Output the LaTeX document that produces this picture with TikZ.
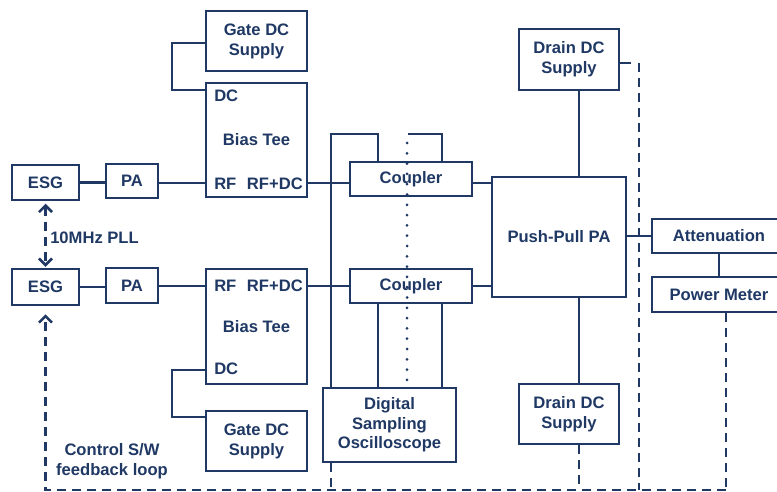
\documentclass[tikz,border=0pt]{standalone}
\usepackage{fontspec}
\setmainfont{Liberation Sans}
\usetikzlibrary{arrows.meta}
\definecolor{navy}{RGB}{31,56,100}
\begin{document}
\begin{tikzpicture}[x=1pt,y=-1pt,line width=2.5pt,navy,
  font=\bfseries\fontsize{16.6}{20}\selectfont,
  box/.style={draw,inner sep=0pt,align=center,text=navy},
  lbl/.style={inner sep=0pt,text=navy},
  dsh/.style={dash pattern=on 9pt off 6pt},
  dots/.style={line width=3pt,dash pattern=on 0pt off 10.3pt,line cap=round},
  barb/.style={-{Straight Barb[length=6.5pt,width=13pt,line width=2.5pt]}},
  dbarb/.style={{Straight Barb[length=6.5pt,width=13pt,line width=2.5pt]}-{Straight Barb[length=6.5pt,width=13pt,line width=2.5pt]}}]
\useasboundingbox (0,0) rectangle (777,492);
\clip (0,0) rectangle (777,492);
\fill[white] (0,0) rectangle (777,492);

% helper coordinates
\coordinate (y1) at (0,183);
\coordinate (y2) at (0,286);
\coordinate (g0) at (0,43);
\coordinate (g1) at (0,90);
\coordinate (g2) at (0,370);
\coordinate (g3) at (0,417);
\coordinate (fb) at (0,490);
\coordinate (t) at (0,134);
\coordinate (ox) at (331,0);
\coordinate (cx1) at (378,0);
\coordinate (cx2) at (408,0);
\coordinate (cx3) at (442,0);
\coordinate (dotx) at (407,0);
\coordinate (dx) at (579,0);
\coordinate (s1) at (0,63);
\coordinate (dd) at (639,63);
\coordinate (pmx) at (726,0);
\coordinate (dot0) at (407,143);

% boxes
\node[box,minimum width=67pt,minimum height=35pt] (esg1) at (45.5,182.5) {ESG};
\node[box,minimum width=52pt,minimum height=34pt] (pa1) at (132,181) {PA};
\node[box,minimum width=67pt,minimum height=36pt] (esg2) at (45.5,287) {ESG};
\node[box,minimum width=52pt,minimum height=35pt] (pa2) at (132,285.5) {PA};
\node[box,minimum width=101pt,minimum height=60pt] (gate1) at (256.5,41) {Gate DC\\Supply};
\node[box,minimum width=101pt,minimum height=114pt] (bias1) at (256.5,140) {Bias Tee};
\node[box,minimum width=101pt,minimum height=115pt] (bias2) at (256.5,326.5) {Bias Tee};
\node[box,minimum width=101pt,minimum height=60pt] (gate2) at (256.5,441) {Gate DC\\Supply};
\node[box,minimum width=122pt,minimum height=34pt] (coup1) at (411,179) {Coupler};
\node[box,minimum width=122pt,minimum height=34pt] (coup2) at (411,286) {Coupler};
\node[box,minimum width=133pt,minimum height=74pt,font=\bfseries\fontsize{16.6}{19.5}\selectfont] (osc) at (389.5,425) {Digital\\Sampling\\Oscilloscope};
\node[box,minimum width=134pt,minimum height=120pt] (pp) at (559,237) {Push-Pull PA};
\node[box,minimum width=100pt,minimum height=61pt] (drain1) at (569,59.5) {Drain DC\\Supply};
\node[box,minimum width=100pt,minimum height=60pt] (drain2) at (569,414) {Drain DC\\Supply};
\node[box,minimum width=134pt,minimum height=34pt] (att) at (719,236) {Attenuation};
\node[box,minimum width=134pt,minimum height=35pt] (pm) at (719,294.5) {Power Meter};

% port labels
\node[lbl,anchor=west] (dc1) at (213,96) {DC};
\node[lbl,anchor=west] (rf1) at (213,184) {RF};
\node[lbl,anchor=east] (rfdc1) at (304,184) {RF+DC};
\node[lbl,anchor=west] (rf2) at (213,286) {RF};
\node[lbl,anchor=east] (rfdc2) at (304,286) {RF+DC};
\node[lbl,anchor=west] (dc2) at (213,369) {DC};
\node[lbl,anchor=west] (pll) at (49,238) {10MHz PLL};
\node[lbl,align=center] (ctrl) at (112,461.5) {Control S/W\\feedback loop};

% solid connectors
\draw (esg1.east) -- (esg1.east -| pa1.west);
\draw (pa1.east |- y1) -- (bias1.west |- y1);
\draw (bias1.east |- y1) -- (coup1.west |- y1);
\draw (coup1.east |- y1) -- (pp.west |- y1);
\draw (esg2.east) -- (esg2.east -| pa2.west);
\draw (pa2.east |- y2) -- (bias2.west |- y2);
\draw (bias2.east |- y2) -- (coup2.west |- y2);
\draw (coup2.east |- y2) -- (pp.west |- y2);
\draw (gate1.west |- g0) -- ++(-33,0) |- (bias1.west |- g1);
\draw (bias2.west |- g2) -- ++(-33,0) |- (gate2.west |- g3);
\draw (dx |- drain1.south) -- (dx |- pp.north);
\draw (dx |- pp.south) -- (dx |- drain2.north);
\draw (drain1.east |- s1) -- ++(11,0);
\draw (pp.east |- att.west) -- (att.west);
\draw (att.south) -- (pm.north);
\draw (ox |- osc.north) -- (ox |- t) -- (cx1 |- t) -- (cx1 |- coup1.north);
\draw (cx2 |- t) -- (cx3 |- t) -- (cx3 |- coup1.north);
\draw (cx1 |- coup2.south) -- (cx1 |- osc.north);
\draw (cx3 |- coup2.south) -- (cx3 |- osc.north);

% dotted coupled path
\draw[dots] (dot0) -- (dotx |- osc.north);

% dashed control paths
\draw[dsh,dbarb] ([yshift=-2.5pt]esg1.south) -- ([yshift=1pt]esg2.north);
\draw[dsh] (dd) -- (dd |- fb);
\draw[dsh] (dx |- drain2.south) -- (dx |- fb);
\draw[dsh] (ox |- osc.south) -- (ox |- fb);
\draw[dsh] (pmx |- pm.south) -- (pmx |- fb);
\draw[dsh,barb] (pmx |- fb) -- (esg2.south |- fb) -- ([yshift=-8pt]esg2.south);
\end{tikzpicture}
\end{document}
